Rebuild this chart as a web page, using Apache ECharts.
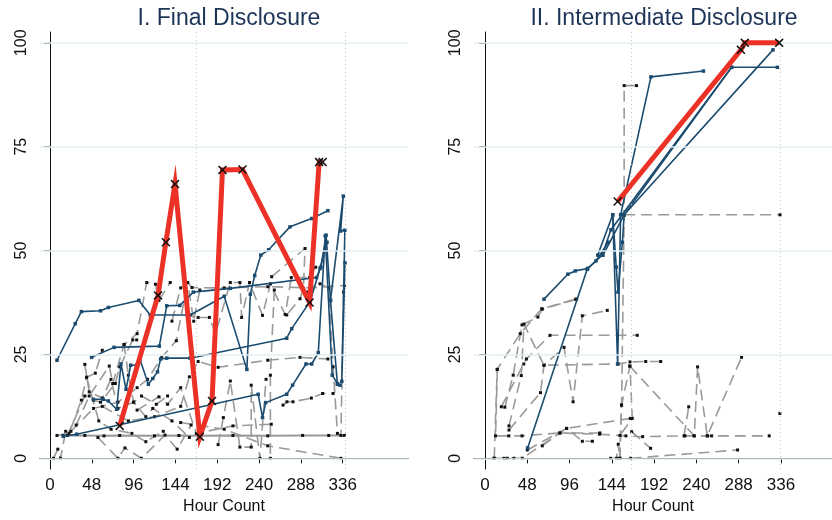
<!DOCTYPE html>
<html>
<head>
<meta charset="utf-8">
<script src="https://cdn.jsdelivr.net/npm/echarts@6/dist/echarts.min.js"></script>
<style>
  html, body { margin: 0; padding: 0; background: #fff; }
  #main { width: 832px; height: 520px; }
</style>
</head>
<body>
<div id="main"></div>
<script>
// tick labels
var xTicks = [0, 48, 96, 144, 192, 240, 288, 336];
var yTicks = [0, 25, 50, 75, 100];
var panelTitles = ['I. Final Disclosure', 'II. Intermediate Disclosure'];

// ---- I. Final Disclosure ----
// highlighted subject (red, x markers)
var finalRed = [[80, 7.8], [124, 39.2], [133, 52], [143.5, 66], [172, 5.2], [186, 13.8],
  [198, 69.4], [221, 69.5], [298, 37.5], [309, 71.3], [313, 71.3]];
// solid blue subjects
var finalBlue = [
  [[8, 23.6], [29, 32.4], [36, 35.3], [58, 35.5], [67, 36.3], [102, 38], [115, 34.5], [161, 34.5],
   [200, 39], [226, 21.4], [230, 39.5], [235, 44], [242, 48.9], [251, 50.2], [275.5, 55.7], [300.4, 57.7], [319, 59.6]],
  [[47.8, 24.3], [73.5, 26.7], [125.5, 27], [134, 36.7], [149, 36.8], [164.5, 40], [207, 40.9],
   [306, 43.5], [311, 46], [317, 53.7], [322, 38], [330, 17.8], [333, 17.6]],
  [[49.7, 14.2], [61, 14.2], [67, 13.8], [76.5, 11.8], [81.5, 22.7], [87.3, 16.6], [92.6, 22.4], [99.3, 22.4],
   [103.3, 23.8], [112.9, 17.8], [118, 19.2], [123.4, 20.8], [127, 23.9], [134, 24.1], [160.8, 24.1],
   [271.7, 28.9], [277.5, 31.2], [298.5, 37.7], [310, 45.7], [318, 52]],
  [[15.3, 5.3], [30.6, 5.8], [239, 15.4], [244, 9.8], [247.6, 13.4], [271.7, 15.4], [278.5, 17.6],
   [293.9, 22.7], [300.4, 22.7], [308, 25.4], [316, 53.5], [324, 20], [330, 18]],
  [[322, 38], [336.7, 63.1], [333.7, 54.7], [338.5, 54.9], [335, 18.5], [338.7, 47]]
];
// flat grey subject
var finalFlat = [[15, 5.5], [40, 5.5], [62, 5.4], [80, 5.5], [120, 5.4], [148, 5.5], [170, 5.4],
  [210, 5.5], [250, 5.4], [290, 5.5], [320, 5.5], [338, 5.5]];
// dashed grey subjects
var finalGray = [
  [[4, 0], [9, 2.2], [12, 0], [18, 6.5]],
  [[8, 5.5], [22, 6], [36, 14], [42, 19.5], [52, 20.5], [60, 26]],
  [[20, 5.5], [40, 15], [50, 14], [58, 13.5], [75, 18], [80, 22], [95, 28.5], [99.5, 28.5]],
  [[30, 8], [45, 15], [68, 22.2], [72, 18], [85, 27.4], [100, 30], [111, 42.3], [121, 41.9], [125, 38], [138, 42.3]],
  [[40, 22.6], [45, 16], [60, 14.5], [70, 19], [78, 12], [96, 13.5], [105, 15], [122, 13], [135, 15]],
  [[24, 6.5], [50, 12], [78, 13.5], [100, 17], [112, 19], [128, 24.2], [145, 28.3], [158, 42.3],
   [163, 41.1], [200, 41], [250, 41.3], [300, 41], [338, 41.6]],
  [[55, 5], [78, 0], [86, 2.5], [105, 0], [132, 5.6], [146, 2.2], [162, 8]],
  [[60, 12.5], [90, 9], [120, 10], [150, 12.5], [160, 19.6], [170, 23.3], [193, 21.9], [250, 23.6], [287, 24.3], [319, 23.9]],
  [[100, 11.6], [125, 14.8], [135, 13], [150, 17], [168, 6], [210, 7.8], [254, 8.2]],
  [[150, 8.6], [200, 7], [250, 3], [334, 0]],
  [[170, 33.9], [183, 33.9], [190, 30], [207, 42.3], [218, 42.3], [220, 33.9], [229, 42.3], [244, 34.4],
   [253, 42], [270, 34.6], [277, 43.5], [298, 43.5], [305, 46]],
  [[193, 3.3], [199, 9.8], [207, 18.6], [218, 2.7], [231, 2.7], [231, 17.6], [241, 0], [248, 19]],
  [[257.5, 40.5], [253, 20], [253, 0]],
  [[267.5, 12.8], [272, 13.6], [279, 13.6], [300, 14.5], [313, 15.6], [325, 15.6]],
  [[140, 33], [150, 41], [158, 42.3], [165, 33], [172, 40.5]],
  [[295, 40], [300, 41], [310, 42], [320, 41], [325, 22], [330, 6], [334, 5.5], [337, 40]],
  [[254.5, 43.7], [292.8, 50.5], [290.9, 40.9], [287, 38.4], [271.8, 34.5]],
  [[85, 27.4], [90, 20], [96, 13.5], [110, 10], [118, 12], [140, 9], [160, 5]],
  [[42, 19.5], [56, 9], [70, 7], [94, 6], [110, 4], [130, 6.5]]
];

// ---- II. Intermediate Disclosure ----
var interRed = [[150.6, 61.8], [290.6, 98.3], [295, 100], [334, 100]];
var interBlue = [
  [[67, 38.3], [94, 44.3], [102.5, 45.1], [116.6, 45.7], [126, 47.5], [140, 52]],
  [[48.4, 2.5], [116, 45.5], [133, 48.9], [143, 55], [280, 94.1], [332, 94.1]],
  [[128, 48.9], [145, 58.6], [150.6, 22.7], [154, 58.6], [188.4, 91.8], [248, 93.2]],
  [[134, 48.9], [158, 58.6], [327, 98.3]],
  [[145, 58.6], [149, 46], [151, 40], [156, 52], [158, 58.6], [280, 94.1]]
];
var interGray = [
  [[10.5, 0], [13.8, 21.4], [40, 30], [64.5, 36], [103, 38.3]],
  [[22.5, 12.3], [32, 20], [42, 32.1], [60, 34], [65, 35.9], [104, 38.3]],
  [[18.5, 12.4], [44, 22.7], [47, 23.9], [73.8, 29.6], [172.9, 29.6]],
  [[27.2, 7.8], [41.2, 19.9], [44.2, 32.3], [66.9, 22.4], [151, 22.7], [164.6, 23.2], [182.5, 23.3], [199.5, 23.3]],
  [[27.2, 6.8], [63, 15.8], [67, 22.4], [89.7, 26.7], [100, 13.6], [110.5, 34.3], [138.8, 35.6]],
  [[14, 21.4], [12, 5.4], [27, 5.4], [42, 5.4], [85, 6.1], [130, 5.8], [160, 5.4], [179, 5.2], [227, 5.4],
   [237.4, 5.4], [252.4, 5.4], [257.3, 5.4], [322.7, 5.4]],
  [[10.2, 0], [21.6, 0], [25.3, 0], [32.8, 0], [42.3, 0], [92.7, 7.2], [165, 9.6]],
  [[48, 2], [92.7, 7.2], [110.5, 4.1], [121.9, 4.1]],
  [[142.6, 0], [149.4, 0], [151.3, 3.4], [153.2, 0], [155.1, 12.8], [158, 58.6], [158, 89.7], [172, 89.7]],
  [[158, 58.6], [335, 58.6]],
  [[164.3, 22.2], [237.6, 5.4], [241.4, 22], [252.4, 5.4], [291.3, 24.3]],
  [[165.3, 0], [286.8, 2.0]],
  [[166.5, 6.4], [188, 2.4]],
  [[226, 5.4], [231.3, 12.4]],
  [[334.8, 10.8]],
  [[153, 0], [155, 12.8], [164.6, 22.2], [167.2, 9.6], [153.2, 5.5]],
  [[65, 3], [85.1, 6.1], [130.5, 6.1]]
];

var fontFam = '"Liberation Sans", Arial, sans-serif';
var xMark = 'path://M0,1.2L1.2,0L5,3.8L8.8,0L10,1.2L6.2,5L10,8.8L8.8,10L5,6.2L1.2,10L0,8.8L3.8,5Z';

function grayLine(pts, gi) {
  return {
    type: 'line', xAxisIndex: gi, yAxisIndex: gi, data: pts, z: 2,
    symbol: 'rect', symbolSize: 3, itemStyle: { color: '#111' },
    lineStyle: { color: '#9a9a9a', width: 1.6, type: [11, 6] }
  };
}
function blueLine(pts, gi) {
  return {
    type: 'line', xAxisIndex: gi, yAxisIndex: gi, data: pts, z: 3,
    symbol: 'rect', symbolSize: 3.5, itemStyle: { color: '#1b4c70' },
    lineStyle: { color: '#1b4c70', width: 1.6 }
  };
}
function redLine(pts, gi) {
  return {
    type: 'line', xAxisIndex: gi, yAxisIndex: gi, data: pts, z: 5,
    symbol: xMark, symbolSize: 9, itemStyle: { color: '#111' },
    lineStyle: { color: '#ec3226', width: 5, join: 'miter', miterLimit: 10 }
  };
}
function refLines(gi, vx) {
  var d = [];
  yTicks.forEach(function (v) {
    d.push({ yAxis: v, lineStyle: { color: '#e2eef1', width: 1.5, type: 'solid' } });
  });
  vx.forEach(function (v) {
    d.push({ xAxis: v, lineStyle: { color: '#c4c4c4', width: 1, type: [1, 3] } });
  });
  return {
    type: 'line', xAxisIndex: gi, yAxisIndex: gi, data: [], z: 1,
    markLine: { silent: true, symbol: 'none', label: { show: false }, animation: false, data: d }
  };
}

var series = [refLines(0, [167.6, 338.5]), refLines(1, [165.7, 335])];
finalGray.forEach(function (p) { series.push(grayLine(p, 0)); });
series.push({
  type: 'line', xAxisIndex: 0, yAxisIndex: 0, data: finalFlat, z: 2,
  symbol: 'rect', symbolSize: 3, itemStyle: { color: '#111' },
  lineStyle: { color: '#999', width: 2 }
});
finalBlue.forEach(function (p) { series.push(blueLine(p, 0)); });
series.push(redLine(finalRed, 0));
interGray.forEach(function (p) { series.push(grayLine(p, 1)); });
interBlue.forEach(function (p) { series.push(blueLine(p, 1)); });
series.push(redLine(interRed, 1));

function xAxisOpt(gi, mn, mx) {
  return {
    type: 'value', gridIndex: gi, min: mn, max: mx,
    name: 'Hour Count', nameLocation: 'middle', nameGap: 27,
    nameTextStyle: { fontSize: 16, color: '#111', fontFamily: fontFam },
    axisLine: { show: true, lineStyle: { color: '#111', width: 1 } },
    axisTick: { show: true, length: 5, customValues: xTicks, lineStyle: { color: '#111' } },
    axisLabel: { customValues: xTicks, fontSize: 17, color: '#111', margin: 8, fontFamily: fontFam },
    splitLine: { show: false }
  };
}
function yAxisOpt(gi) {
  return {
    type: 'value', gridIndex: gi, min: -2.6, max: 102.6,
    axisLine: { show: true, lineStyle: { color: '#111', width: 1 } },
    axisTick: { show: true, length: 6, customValues: yTicks, lineStyle: { color: '#111' } },
    axisLabel: { customValues: yTicks, rotate: 90, fontSize: 16, color: '#111', margin: 10, fontFamily: fontFam },
    splitLine: { show: false }
  };
}

var chart = echarts.init(document.getElementById('main'));
chart.setOption({
  animation: false,
  backgroundColor: '#fff',
  title: [
    { text: panelTitles[0], left: 224, top: 2, textAlign: 'center',
      textStyle: { fontSize: 23, fontWeight: 'normal', color: '#1c3458', fontFamily: fontFam } },
    { text: panelTitles[1], left: 659, top: 2, textAlign: 'center',
      textStyle: { fontSize: 23, fontWeight: 'normal', color: '#1c3458', fontFamily: fontFam } }
  ],
  grid: [
    { left: 40, right: 424, top: 32, bottom: 48 },
    { left: 474, right: 0, top: 32, bottom: 48 }
  ],
  xAxis: [xAxisOpt(0, -11.5, 411), xAxisOpt(1, -12.5, 394)],
  yAxis: [yAxisOpt(0), yAxisOpt(1)],
  series: series
});
</script>
</body>
</html>
